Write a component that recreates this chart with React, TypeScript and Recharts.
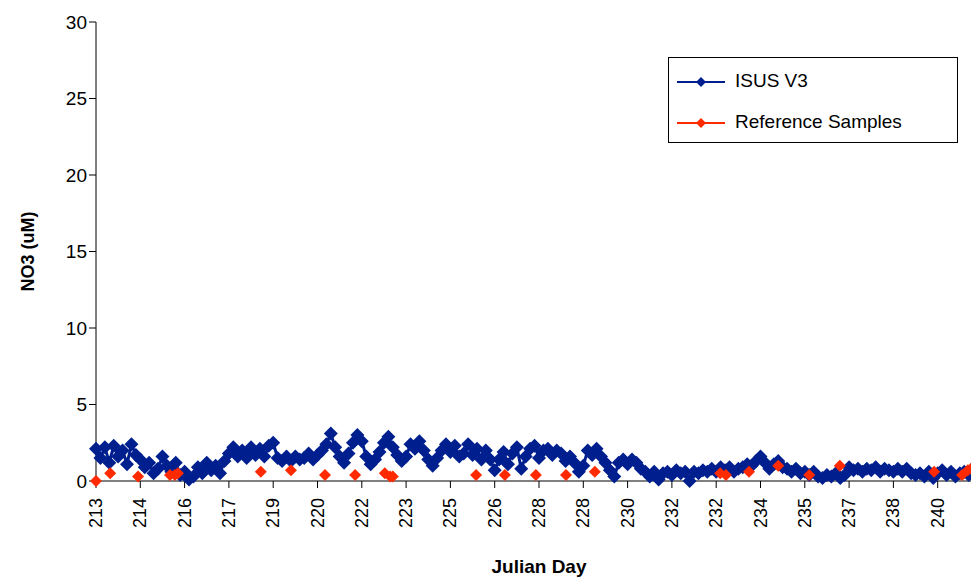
import { ScatterChart, Scatter, XAxis, YAxis, Label } from 'recharts';

// x is in axis-tick units (one unit per labelled tick), y is NO3 in uM
const tickLabels = ['213', '214', '216', '217', '219', '220', '222', '223', '225', '226', '228', '228', '230', '232', '232', '234', '235', '237', '238', '240'];
const tickPositions = tickLabels.map((_, i) => i);
const yTicks = [0, 5, 10, 15, 20, 25, 30];

const isusX = [
  0.0, 0.1, 0.2, 0.3, 0.4, 0.5, 0.6, 0.7, 0.8, 0.9, 1.0, 1.1, 1.2, 1.3, 1.4, 1.5, 1.6, 1.7, 1.8, 1.9,
  2.0, 2.1, 2.2, 2.3, 2.4, 2.5, 2.6, 2.7, 2.8, 2.9, 3.0, 3.1, 3.2, 3.3, 3.4, 3.5, 3.6, 3.7, 3.8, 3.9,
  4.0, 4.1, 4.2, 4.3, 4.4, 4.5, 4.6, 4.7, 4.8, 4.9, 5.0, 5.1, 5.2, 5.3, 5.4, 5.5, 5.6, 5.7, 5.8, 5.9,
  6.0, 6.1, 6.2, 6.3, 6.4, 6.5, 6.6, 6.7, 6.8, 6.9, 7.0, 7.1, 7.2, 7.3, 7.4, 7.5, 7.6, 7.7, 7.8, 7.9,
  8.0, 8.1, 8.2, 8.3, 8.4, 8.5, 8.6, 8.7, 8.8, 8.9, 9.0, 9.1, 9.2, 9.3, 9.4, 9.5, 9.6, 9.7, 9.8, 9.9,
  10.0, 10.1, 10.2, 10.3, 10.4, 10.5, 10.6, 10.7, 10.8, 10.9, 11.0, 11.1, 11.2, 11.3, 11.4, 11.5, 11.6, 11.7, 11.8, 11.9,
  12.0, 12.1, 12.2, 12.3, 12.4, 12.5, 12.6, 12.7, 12.8, 12.9, 13.0, 13.1, 13.2, 13.3, 13.4, 13.5, 13.6, 13.7, 13.8, 13.9,
  14.0, 14.1, 14.2, 14.3, 14.4, 14.5, 14.6, 14.7, 14.8, 14.9, 15.0, 15.1, 15.2, 15.3, 15.4, 15.5, 15.6, 15.7, 15.8, 15.9,
  16.0, 16.1, 16.2, 16.3, 16.4, 16.5, 16.6, 16.7, 16.8, 16.9, 17.0, 17.1, 17.2, 17.3, 17.4, 17.5, 17.6, 17.7, 17.8, 17.9,
  18.0, 18.1, 18.2, 18.3, 18.4, 18.5, 18.6, 18.7, 18.8, 18.9, 19.0, 19.1, 19.2, 19.3, 19.4, 19.5, 19.6, 19.7, 19.8, 19.9,
];
const isusY = [
  2.1, 1.5, 2.2, 1.2, 2.3, 1.6, 2.0, 1.1, 2.4, 1.7, 1.4, 0.9, 1.2, 0.5, 0.8, 1.6, 1.0, 0.6, 1.2, 0.4,
  0.6, 0.1, 0.3, 0.9, 0.5, 1.2, 0.7, 1.0, 0.5, 1.3, 1.8, 2.2, 1.6, 2.0, 1.5, 2.2, 1.7, 2.1, 1.6, 2.3,
  2.5, 1.5, 1.3, 1.6, 1.3, 1.6, 1.4, 1.5, 1.8, 1.4, 1.7, 2.0, 2.4, 3.1, 2.2, 1.6, 1.2, 1.8, 2.5, 3.0,
  2.6, 1.6, 1.1, 1.4, 1.9, 2.5, 2.9, 2.2, 1.7, 1.3, 1.6, 2.4, 2.1, 2.6, 2.0, 1.4, 1.0, 1.5, 2.0, 2.4,
  1.9, 2.3, 1.6, 1.8, 2.4, 1.7, 2.1, 1.4, 2.0, 1.4, 0.7, 1.4, 1.9, 1.1, 1.8, 2.2, 0.8, 1.6, 2.1, 2.3,
  1.5, 2.0, 2.1, 1.7, 2.0, 1.8, 1.3, 1.6, 1.2, 0.6, 1.0, 2.0, 1.7, 2.1, 1.6, 1.2, 0.7, 0.3, 1.2, 1.4,
  1.1, 1.4, 1.2, 0.8, 0.6, 0.3, 0.6, 0.1, 0.5, 0.6, 0.4, 0.7, 0.5, 0.6, 0.0, 0.6, 0.5, 0.7, 0.6, 0.8,
  0.6, 0.9, 0.7, 0.9, 0.6, 0.8, 0.9, 1.1, 1.0, 1.3, 1.6, 1.2, 0.8, 1.1, 1.3, 0.9, 0.8, 0.6, 0.8, 0.5,
  0.6, 0.4, 0.6, 0.3, 0.2, 0.4, 0.3, 0.5, 0.2, 0.4, 0.9, 0.7, 0.8, 0.6, 0.8, 0.7, 0.9, 0.6, 0.8, 0.7,
  0.6, 0.8, 0.6, 0.8, 0.5, 0.4, 0.5, 0.3, 0.6, 0.2, 0.5, 0.7, 0.4, 0.6, 0.3, 0.5, 0.6, 0.4, 0.5, 0.4,
];

const refX = [0, 0.32, 0.95, 1.67, 1.78, 1.85, 3.72, 4.4, 5.17, 5.85, 6.52, 6.64, 6.7, 8.58, 9.23, 9.93, 10.61, 11.26, 14.09, 14.22, 14.74, 15.4, 16.1, 16.79, 18.92, 19.55, 19.68, 19.75];
const refY = [0.0, 0.5, 0.3, 0.4, 0.4, 0.5, 0.6, 0.7, 0.4, 0.4, 0.5, 0.3, 0.3, 0.4, 0.4, 0.4, 0.4, 0.6, 0.5, 0.4, 0.6, 1.0, 0.4, 1.0, 0.6, 0.4, 0.7, 0.8];

const isusData = isusX.map((x, i) => ({ x, y: isusY[i] }));
const refData = refX.map((x, i) => ({ x, y: refY[i] }));

const FONT = 'Arial, "Liberation Sans", sans-serif';

function Diamond({ cx, cy, fill, r }: any) {
  if (typeof cx !== 'number' || typeof cy !== 'number') return null;
  return <path d={`M${cx},${cy - r}L${cx + r},${cy}L${cx},${cy + r}L${cx - r},${cy}Z`} fill={fill} />;
}

function XTick({ x, y, payload }: any) {
  return (
    <text x={x} y={y + 8} transform={`rotate(-90 ${x} ${y + 8})`} textAnchor="end" dominantBaseline="central"
      fontSize={18} fontFamily={FONT} fill="#000">
      {tickLabels[payload.value]}
    </text>
  );
}

export default function App() {
  return (
    <div style={{ position: 'absolute', left: 0, top: 0, width: 971, height: 579, overflow: 'hidden', background: '#fff' }}>
      <ScatterChart width={1000} height={579} margin={{ top: 22, right: 18, bottom: 0, left: 0 }}>
        <XAxis type="number" dataKey="x" domain={[0, 20]} ticks={tickPositions} interval={0} tick={<XTick />}
          tickLine={{ stroke: '#000' }} tickSize={7} axisLine={{ stroke: '#000' }} height={98}>
          <Label value="Julian Day" position="insideBottom" offset={6} style={{ fontFamily: FONT, fontWeight: 700, fontSize: 19, fill: '#000' }} />
        </XAxis>
        <YAxis type="number" dataKey="y" domain={[0, 30]} ticks={yTicks} width={96}
          tick={{ fontSize: 19, fontFamily: FONT, fill: '#000' }} tickLine={{ stroke: '#000' }} tickSize={7}
          axisLine={{ stroke: '#000' }}>
          <Label value="NO3 (uM)" angle={-90} position="insideLeft" offset={28} style={{ fontFamily: FONT, fontWeight: 700, fontSize: 18, fill: '#000', textAnchor: 'middle' }} />
        </YAxis>
        <Scatter data={isusData} fill="#001f8f" line={{ stroke: '#001f8f', strokeWidth: 3 }}
          shape={(p: any) => <Diamond {...p} r={7} fill="#001f8f" />} isAnimationActive={false} />
        <Scatter data={refData} fill="#ff2a00" shape={(p: any) => <Diamond {...p} r={6} fill="#ff2a00" />} isAnimationActive={false} />
      </ScatterChart>
      <div style={{ position: 'absolute', left: 668, top: 57, width: 288, height: 84, border: '1px solid #000', background: '#fff', fontFamily: FONT, fontSize: 19 }}>
        <svg width={60} height={84} style={{ position: 'absolute', left: 0, top: 0 }}>
          <line x1={8} y1={24} x2={56} y2={24} stroke="#001f8f" strokeWidth={2} />
          <path d="M32,19L37,24L32,29L27,24Z" fill="#001f8f" />
          <line x1={8} y1={65} x2={56} y2={65} stroke="#ff2a00" strokeWidth={2} />
          <path d="M32,60L37,65L32,70L27,65Z" fill="#ff2a00" />
        </svg>
        <div style={{ position: 'absolute', left: 66, top: 12 }}>ISUS V3</div>
        <div style={{ position: 'absolute', left: 66, top: 53 }}>Reference Samples</div>
      </div>
    </div>
  );
}
